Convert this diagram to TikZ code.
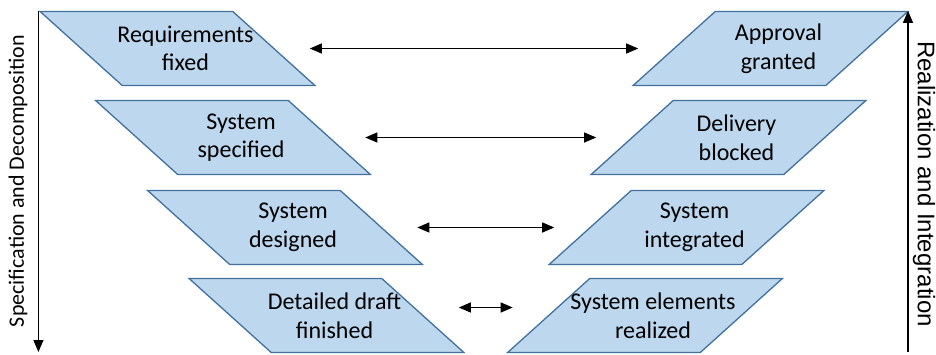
\documentclass[tikz,border=0pt]{standalone}
\usepackage{fontspec}
\setmainfont{Carlito}
\newfontfamily\arialfont{Liberation Sans}
\usetikzlibrary{shapes.geometric, arrows.meta}
\definecolor{boxfill}{HTML}{BDD7EE}
\definecolor{boxline}{HTML}{41719C}

\begin{document}
\begin{tikzpicture}[x=1pt, y=-1pt, >={Triangle[length=12pt, width=10pt]}]

  \tikzset{
    leftbox/.style={shape=trapezium, trapezium left angle=126.6,
      trapezium right angle=53.4, trapezium stretches=true,
      minimum width=275pt, minimum height=74pt, inner sep=2pt,
      fill=boxfill, draw=boxline, line width=1.3pt},
    rightbox/.style={leftbox, trapezium left angle=53.4,
      trapezium right angle=126.6},
    boxtext/.style={xshift=8pt, align=center, inner sep=0pt,
      font=\fontsize{24}{28.5}\selectfont},
    link/.style={<->, line width=1.2pt, shorten <=35pt, shorten >=35pt}
  }

  \useasboundingbox (0,0) rectangle (936,354);

  % Linke Seite
  \node[leftbox, label={[boxtext]center:Requirements\\fixed}] (req) at (177.5,48.5) {};
  \node[leftbox, label={[boxtext]center:System\\specified}] (spec) at (233,137.5) {};
  \node[leftbox, label={[boxtext]center:System\\designed}] (des) at (285,227.5) {};
  \node[leftbox, label={[boxtext]center:Detailed draft\\finished}] (draft) at (326.5,315.5) {};

  % Rechte Seite
  \node[rightbox, label={[boxtext]center:Approval\\granted}] (appr) at (770.5,48.5) {};
  \node[rightbox, label={[boxtext]center:Delivery\\blocked}] (deliv) at (728.5,137.5) {};
  \node[rightbox, label={[boxtext]center:System\\integrated}] (integ) at (686.5,227.5) {};
  \node[rightbox, label={[boxtext]center:System elements\\realized}] (elem) at (645,315.5) {};

  % Verbindungen
  \draw[link] (req.east) -- (appr.west);
  \draw[link] (spec.east) -- (deliv.west);
  \draw[link] (des.east) -- (integ.west);
  \draw[link] ([yshift=8pt]draft.east) -- ([yshift=8pt]elem.west);

  % Achsen
  \coordinate (lend) at (39.5,352);
  \coordinate (rstart) at (908,352);
  \draw[->, line width=1.2pt] (req.top left corner) -- (req.top left corner |- lend);
  \draw[->, line width=1.2pt] (rstart) -- (rstart |- appr.top right corner);

  \node[rotate=90, font=\fontsize{22}{26}\selectfont] (spectxt) at (18,181)
    {Specification and Decomposition};
  \node[rotate=-90, font=\arialfont\fontsize{24}{28}\selectfont] (realtxt) at (924,184)
    {Realization and Integration};

\end{tikzpicture}
\end{document}
